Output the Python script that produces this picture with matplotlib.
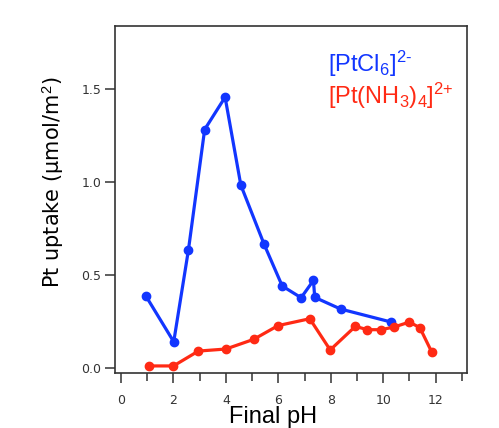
import numpy as np
import matplotlib
matplotlib.use('Agg')
import matplotlib.pyplot as plt
from matplotlib.ticker import MultipleLocator

# Pt uptake vs. final pH for the two precursors
ph_cl = [0.94, 2.01, 2.57, 3.19, 3.97, 4.57, 5.46, 6.15, 6.87, 7.34, 7.39, 8.38, 10.31]
up_cl = [0.389, 0.141, 0.634, 1.283, 1.457, 0.984, 0.665, 0.441, 0.378, 0.471, 0.380, 0.317, 0.247]

ph_nh = [1.06, 2.0, 2.95, 4.0, 5.06, 5.99, 7.2, 7.98, 8.94, 9.40, 9.91, 10.41, 11.0, 11.4, 11.86]
up_nh = [0.011, 0.011, 0.091, 0.102, 0.154, 0.228, 0.265, 0.097, 0.224, 0.206, 0.206, 0.220, 0.247, 0.217, 0.084]

blue = '#1236ff'
red = '#ff2a14'
dark = '#333333'
lab_font = 'Liberation Sans'

plt.rcParams['mathtext.fontset'] = 'custom'
plt.rcParams['mathtext.rm'] = lab_font
plt.rcParams['mathtext.it'] = lab_font + ':italic'
plt.rcParams['mathtext.bf'] = lab_font + ':bold'

fig = plt.figure(figsize=(4.99, 4.28), dpi=100)
ax = fig.add_axes([0.2305, 0.1285, 0.7054, 0.8108])

ax.plot(ph_cl, up_cl, '-o', color=blue, lw=2.3, ms=6, clip_on=False)
ax.plot(ph_nh, up_nh, '-o', color=red, lw=2.3, ms=6, clip_on=False)

ax.set_xlim(-0.23, 13.2)
ax.set_ylim(-0.027, 1.84)
ax.xaxis.set_major_locator(MultipleLocator(2))
ax.xaxis.set_minor_locator(MultipleLocator(1))
ax.set_yticks([0.0, 0.5, 1.0, 1.5])
ax.set_yticklabels(['0.0', '0.5', '1.0', '1.5'])

for s in ax.spines.values():
    s.set_color(dark)
    s.set_linewidth(1.2)
ax.tick_params(axis='both', which='major', direction='out', length=7, width=1.1,
               color=dark, labelcolor=dark, labelsize=9)
ax.tick_params(axis='x', which='minor', direction='out', length=6, width=1.1, color=dark)
ax.tick_params(axis='x', pad=8)
ax.tick_params(axis='y', pad=3)

ax.set_xlabel('Final pH', fontsize=17, family=lab_font, va='baseline')
ax.xaxis.set_label_coords(0.449, -0.143)
ax.set_ylabel('Pt uptake (µmol/m$^2$)', fontsize=15, family='DejaVu Sans', va='center')
ax.yaxis.set_label_coords(-0.176, 0.55)

ax.text(0.605, 0.935, r'[PtCl$_6$]$^{2\text{-}}$', transform=ax.transAxes, color=blue,
        fontsize=17, family=lab_font, va='top')
ax.text(0.605, 0.843, r'[Pt(NH$_3$)$_4$]$^{2\text{+}}$', transform=ax.transAxes, color=red,
        fontsize=17, family=lab_font, va='top')

fig.savefig('out.png', dpi=100)
